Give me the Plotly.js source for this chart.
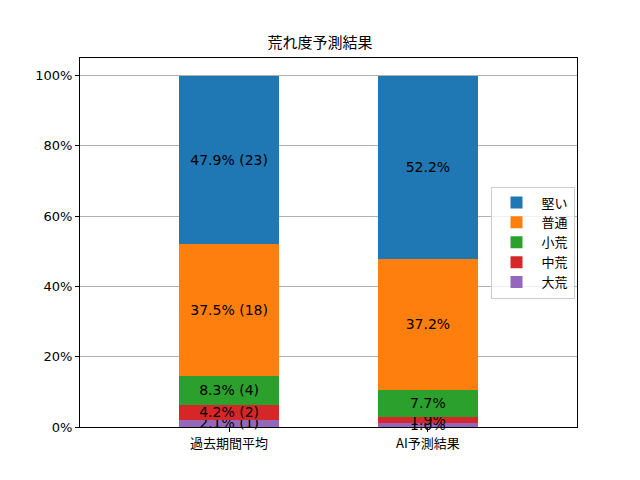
<!DOCTYPE html>
<html><head><meta charset="utf-8">
<script src="https://cdn.plot.ly/plotly-3.0.1.min.js"></script>
<style>body{margin:0;padding:0;background:#fff}#c{width:640px;height:480px}</style>
</head><body><div id="c"></div>
<script>
const categories = ['過去期間平均', 'AI予測結果'];
const levels = ['大荒', '中荒', '小荒', '普通', '堅い'];
const colors = ['#9467bd', '#d62728', '#2ca02c', '#ff7f0e', '#1f77b4'];
// percentages per level [past, AI]
const daiare = [2.1, 1.0];
const chuare = [4.2, 1.9];
const shoare = [8.3, 7.7];
const futsu = [37.5, 37.2];
const katai = [47.9, 52.2];
// race counts for past period (AI has none)
const countsDaiare = [1, null];
const countsChuare = [2, null];
const countsShoare = [4, null];
const countsFutsu = [18, null];
const countsKatai = [23, null];
const yTicks = [0, 20, 40, 60, 80, 100];
const yTickLabels = ['0%', '20%', '40%', '60%', '80%', '100%'];

const series = [daiare, chuare, shoare, futsu, katai];
const counts = [countsDaiare, countsChuare, countsShoare, countsFutsu, countsKatai];
const font = 'DejaVu Sans, Noto Sans CJK JP, sans-serif';

const traces = series.map((vals, i) => ({
  type: 'bar',
  name: levels[i],
  x: [0, 1],
  y: vals,
  width: 0.5,
  marker: {color: colors[i], line: {width: 0}},
  text: vals.map((v, j) => v.toFixed(1) + '%' + (counts[i][j] != null ? ' (' + counts[i][j] + ')' : '')),
  textposition: 'inside',
  insidetextanchor: 'middle',
  constraintext: 'none',
  textangle: 0,
  cliponaxis: false,
  textfont: {color: '#000', size: 14, family: font},
  hoverinfo: 'skip'
}));

const layout = {
  width: 640, height: 480,
  margin: {l: 80, r: 63, t: 58, b: 53},
  barmode: 'stack',
  paper_bgcolor: '#fff', plot_bgcolor: '#fff',
  font: {family: font, size: 13, color: '#000'},
  title: {text: '荒れ度予測結果', font: {size: 15, family: 'Noto Sans CJK JP, sans-serif', color: '#000'}, x: 0.5, xanchor: 'center', y: 0.91, yanchor: 'middle'},
  xaxis: {
    range: [-0.75, 1.75], tickmode: 'array', tickvals: [0, 1], ticktext: categories,
    ticks: 'outside', ticklen: 4, tickcolor: '#000', showgrid: false, zeroline: false,
    showline: true, linecolor: '#000', linewidth: 1, mirror: true,
    tickfont: {family: 'Noto Sans CJK JP, sans-serif', size: 13}
  },
  yaxis: {
    range: [0, 105], tickmode: 'array', tickvals: yTicks, ticktext: yTickLabels,
    ticks: 'outside', ticklen: 4, tickcolor: '#000', showgrid: true, gridcolor: '#b0b0b0', gridwidth: 1,
    zeroline: false, showline: true, linecolor: '#000', linewidth: 1, mirror: true,
    tickfont: {family: font, size: 13}
  },
  legend: {
    x: 0.995, xanchor: 'right', y: 0.5, yanchor: 'middle', traceorder: 'reversed',
    bordercolor: '#cccccc', borderwidth: 1, bgcolor: 'rgba(255,255,255,0.8)',
    itemwidth: 40,
    font: {family: 'Noto Sans CJK JP, sans-serif', size: 13}
  },
  showlegend: true
};
Plotly.newPlot('c', traces, layout, {displayModeBar: false, staticPlot: true});
</script></body></html>
